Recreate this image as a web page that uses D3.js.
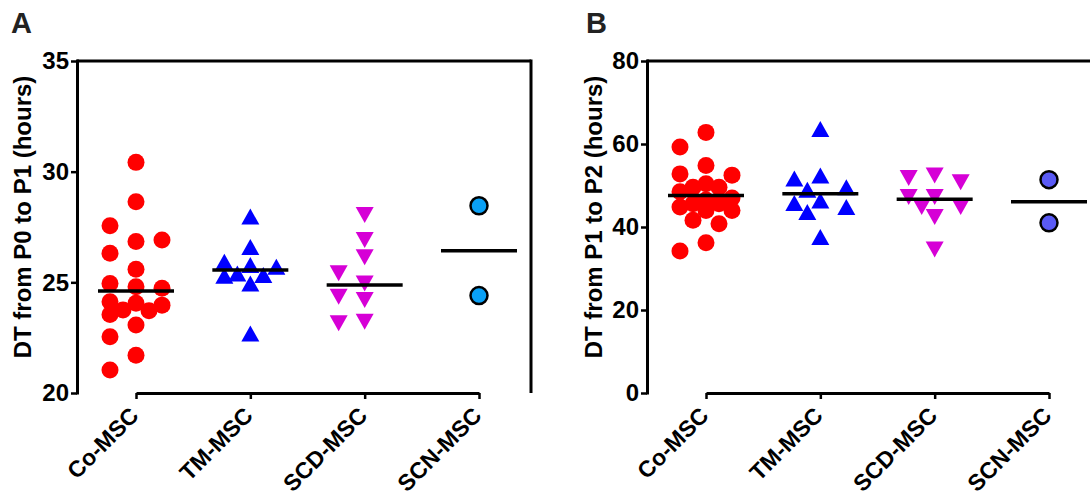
<!DOCTYPE html>
<html>
<head>
<meta charset="utf-8">
<script src="https://cdn.jsdelivr.net/npm/d3@7"></script>
<style>
  html, body { margin: 0; padding: 0; background: #fff; }
  svg { display: block; font-family: "Liberation Sans", Arial, sans-serif; }
</style>
</head>
<body>
<svg id="chart" width="1090" height="499"></svg>
<script>
// Doubling time per MSC group
const categories = ["Co-MSC", "TM-MSC", "SCD-MSC", "SCN-MSC"];

// Panel A: DT from P0 to P1 (hours)
const coP0P1 = [30.42, 28.64, 26.84, 27.56, 26.91, 26.31, 25.59, 24.95, 24.8, 24.73,
                24.12, 24.05, 23.97, 23.75, 23.72, 23.55, 23.07, 22.54, 21.71, 21.04];
const tmP0P1 = [27.97, 26.6, 25.93, 25.78, 25.7, 25.4, 25.33, 25.3, 24.95, 22.69];
const scdP0P1 = [28.04, 26.91, 26.13, 25.41, 24.95, 24.35, 24.2, 23.22, 23.15];
const scnP0P1 = [28.46, 24.4];
const meanP0P1 = [24.61, 25.56, 24.88, 26.43];
const yTicksA = [20, 25, 30, 35];

// Panel B: DT from P1 to P2 (hours)
const coP1P2 = [62.8, 59.3, 54.8, 52.8, 52.5, 50.4, 49.6, 49.6, 48.5, 47.0,
                46.5, 45.6, 45.6, 44.8, 44.0, 44.0, 41.6, 40.8, 36.2, 34.2];
const tmP1P2 = [63.6, 52.4, 51.7, 49.6, 49.0, 46.4, 45.8, 44.8, 43.6, 37.6];
const scdP1P2 = [52.4, 51.8, 50.8, 47.2, 47.2, 44.8, 44.8, 42.4, 34.6];
const scnP1P2 = [51.4, 41.0];
const meanP1P2 = [47.6, 48.0, 46.7, 46.1];
const yTicksB = [0, 20, 40, 60, 80];

const svg = d3.select("#chart");
const fontTick = 24;

// marker shapes
const R = 8.5;
const triUp = "M0,-8L9,8L-9,8Z";
const triDown = "M0,8L9,-8L-9,-8Z";

function dodge(values, y, cx) {
  // greedy horizontal spreading, kept within +-2 half-columns like the original
  const step = 13;
  const cands = [0, -2, 2, -1, 1];
  const placed = [];
  return values.map(v => {
    const py = y(v);
    let best = cx, bestD = -1;
    for (const k of cands) {
      const tx = cx + k * step;
      const d = placed.length ? d3.min(placed, p => Math.hypot(p[0] - tx, p[1] - py)) : Infinity;
      if (d >= 16) { best = tx; bestD = d; break; }
      if (d > bestD) { bestD = d; best = tx; }
    }
    placed.push([best, py]);
    return {v, x: best, y: py};
  });
}

function panel(opt) {
  const g = svg.append("g");
  const y = d3.scaleLinear().domain(opt.yDomain).range([393, 61]);
  const x = d3.scalePoint().domain(categories).range([opt.left + 59, opt.left + 402]);

  // frame top / right
  g.append("line")
    .attr("x1", opt.left).attr("x2", opt.right)
    .attr("y1", y(opt.yDomain[1])).attr("y2", y(opt.yDomain[1]))
    .attr("stroke", "#000").attr("stroke-width", 3);
  g.append("line")
    .attr("x1", opt.right).attr("x2", opt.right)
    .attr("y1", y(opt.yDomain[1]) - 1.5).attr("y2", y(opt.yDomain[0]))
    .attr("stroke", "#000").attr("stroke-width", 3);

  const ya = g.append("g")
    .attr("transform", `translate(${opt.left},0)`)
    .call(d3.axisLeft(y).tickValues(opt.ticks).tickSize(6).tickSizeOuter(0).tickPadding(2));
  const xa = g.append("g")
    .attr("transform", `translate(0,${y(opt.yDomain[0])})`)
    .call(d3.axisBottom(x).tickSize(6).tickSizeOuter(0).tickFormat(""));
  for (const a of [ya, xa]) {
    a.select(".domain").attr("stroke-width", 3);
    a.selectAll(".tick line").attr("stroke-width", 2.5);
  }
  ya.select(".domain").attr("d", `M0.5,${y(opt.yDomain[1]) - 1.5}V${y(opt.yDomain[0]) + 1.5}`);
  ya.selectAll("text")
    .attr("font-size", fontTick).attr("font-weight", "bold")
    .attr("font-family", "Liberation Sans, Arial, sans-serif").attr("fill", "#000");

  // rotated category labels
  g.append("g").selectAll("text")
    .data(categories)
    .join("text")
    .attr("transform", d => `translate(${x(d) + 4},${y(opt.yDomain[0]) + 24}) rotate(-45)`)
    .attr("text-anchor", "end")
    .attr("font-size", 23).attr("font-weight", "bold")
    .text(d => d);

  // y title
  g.append("text")
    .attr("transform", `translate(${opt.titleX},217) rotate(-90)`)
    .attr("text-anchor", "middle")
    .attr("font-size", 24).attr("font-weight", "bold")
    .text(opt.title);

  // panel letter
  g.append("text")
    .attr("x", opt.letterX).attr("y", 33)
    .attr("font-size", 29).attr("font-weight", "bold").attr("fill", "#222")
    .text(opt.letter);

  // points
  const [co, tm, scd, scn] = opt.groups;
  g.append("g").selectAll("circle")
    .data(dodge(co, y, x(categories[0])))
    .join("circle")
    .attr("cx", d => d.x).attr("cy", d => d.y).attr("r", R)
    .attr("fill", "#ff0000");
  g.append("g").selectAll("path")
    .data(dodge(tm, y, x(categories[1])))
    .join("path")
    .attr("transform", d => `translate(${d.x},${d.y})`)
    .attr("d", triUp).attr("fill", "#0000ff");
  g.append("g").selectAll("path")
    .data(dodge(scd, y, x(categories[2])))
    .join("path")
    .attr("transform", d => `translate(${d.x},${d.y})`)
    .attr("d", triDown).attr("fill", "#d600d6");
  g.append("g").selectAll("circle")
    .data(dodge(scn, y, x(categories[3])))
    .join("circle")
    .attr("cx", d => d.x).attr("cy", d => d.y).attr("r", R)
    .attr("fill", opt.scnColor).attr("stroke", "#000").attr("stroke-width", 2.5);

  // mean lines
  g.append("g").selectAll("line")
    .data(opt.means)
    .join("line")
    .attr("x1", (d, i) => x(categories[i]) - 38)
    .attr("x2", (d, i) => x(categories[i]) + 38)
    .attr("y1", d => y(d)).attr("y2", d => y(d))
    .attr("stroke", "#000").attr("stroke-width", 3.5);
}

panel({
  left: 77, right: 531, yDomain: [20, 35], ticks: yTicksA,
  groups: [coP0P1, tmP0P1, scdP0P1, scnP0P1], means: meanP0P1,
  title: "DT from P0 to P1 (hours)", titleX: 31, letter: "A", letterX: 11,
  scnColor: "#0aa0f5"
});
panel({
  left: 647, right: 1101, yDomain: [0, 80], ticks: yTicksB,
  groups: [coP1P2, tmP1P2, scdP1P2, scnP1P2], means: meanP1P2,
  title: "DT from P1 to P2 (hours)", titleX: 602, letter: "B", letterX: 586,
  scnColor: "#5a5af5"
});
</script>
</body>
</html>
